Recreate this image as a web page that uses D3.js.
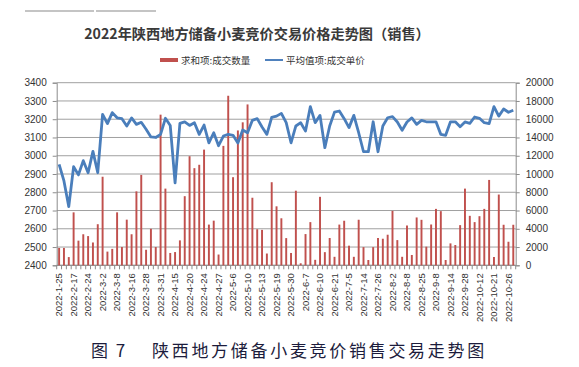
<!DOCTYPE html>
<html>
<meta charset="utf-8">
<style>
    body { margin: 0; background: #fff; }
    svg { display: block; background: #fff; }
    text { font-family: 'Liberation Sans', Arial, sans-serif; }
    .cjk { font-family: 'Noto Sans CJK SC', sans-serif; }
    .tick text { font-size: 10px; fill: #333; }
</style>
<body>
<svg width="579" height="367"></svg>

<script src="https://d3js.org/d3.v7.min.js"></script>
<script>
    // tick labels shown under the chart (one every 3rd trading day)
    let dateLabels = ["2022-1-25", "2022-2-17", "2022-2-24", "2022-3-2", "2022-3-8", "2022-3-16",
        "2022-3-28", "2022-3-31", "2022-4-15", "2022-4-20", "2022-4-24", "2022-4-27", "2022-5-6",
        "2022-5-10", "2022-5-13", "2022-5-19", "2022-5-30", "2022-6-7", "2022-6-10", "2022-6-21",
        "2022-7-5", "2022-7-14", "2022-7-26", "2022-8-2", "2022-8-8", "2022-8-25", "2022-9-8",
        "2022-9-14", "2022-9-28", "2022-10-12", "2022-10-21", "2022-10-26"];

    // 求和项:成交数量 (right axis)
    let quantity = [1900, 1900, 900, 5800, 2700, 3400, 3200, 2500, 4500, 9700, 1500, 1800,
        5800, 2000, 5000, 3400, 8100, 9900, 1700, 4000, 2000, 16500, 8400, 1350,
        1450, 2730, 7570, 11950, 10640, 11010, 12670, 4460, 4890, 1180, 13080, 18570,
        9650, 14770, 15660, 17620, 7400, 3950, 3880, 1290, 9100, 6460, 5150, 2980,
        1350, 8170, 220, 3420, 4730, 600, 7500, 1440, 2990, 930, 4460, 4880,
        2150, 930, 4990, 1990, 580, 1990, 2990, 2910, 3350, 5960, 2760, 930,
        4360, 1130, 5240, 4980, 2040, 4470, 6180, 5930, 580, 2400, 2220, 4400,
        8400, 5420, 4730, 5380, 6180, 9350, 910, 7750, 4440, 2580, 4440];

    // 平均值项:成交单价 (left axis)
    let price = [2953, 2862, 2721, 2940, 2895, 2973, 2907, 3024, 2907, 3227, 3176, 3236,
        3208, 3203, 3163, 3207, 3172, 3183, 3145, 3103, 3100, 3117, 3205, 3166,
        2852, 3177, 3185, 3166, 3181, 3117, 3168, 3071, 3126, 3055, 3108, 3117,
        3112, 3070, 3141, 3126, 3194, 3203, 3157, 3117, 3210, 3217, 3232, 3181,
        3071, 3163, 3181, 3135, 3269, 3181, 3221, 3044, 3163, 3239, 3245, 3203,
        3154, 3221, 3126, 3022, 3022, 3186, 3022, 3163, 3208, 3214, 3185, 3140,
        3185, 3207, 3172, 3194, 3186, 3185, 3186, 3117, 3112, 3186, 3186, 3159,
        3185, 3177, 3212, 3205, 3181, 3176, 3269, 3217, 3256, 3238, 3249];

    let leftTicks = [2400, 2500, 2600, 2700, 2800, 2900, 3000, 3100, 3200, 3300, 3400];
    let rightTicks = [0, 2000, 4000, 6000, 8000, 10000, 12000, 14000, 16000, 18000, 20000];

    let plot = {left: 56.7, right: 515.7, top: 82.7, bottom: 265.3};
    let svg = d3.select("svg");

    let idx = d3.range(quantity.length);
    let xScale = d3.scaleBand().domain(idx).range([plot.left, plot.right]);
    let yLeft = d3.scaleLinear().domain([2400, 3400]).range([plot.bottom, plot.top]);
    let yRight = d3.scaleLinear().domain([0, 20000]).range([plot.bottom, plot.top]);

    // faint rule at the top left
    svg.append("line").attr("x1", 25).attr("x2", 94).attr("y1", 11).attr("y2", 11)
        .style("stroke", "#c4c4c4").style("stroke-width", 2);
    svg.append("line").attr("x1", 96).attr("x2", 156).attr("y1", 11).attr("y2", 11)
        .style("stroke", "#c4c4c4").style("stroke-width", 2);

    // title
    svg.append("text").attr("class", "cjk")
        .attr("x", 257).attr("y", 39)
        .attr("text-anchor", "middle")
        .style("font-size", "14.2px").style("font-weight", "bold").style("fill", "#3a3a3a")
        .text("2022年陕西地方储备小麦竞价交易价格走势图（销售）");

    // legend
    svg.append("rect").attr("x", 160).attr("y", 58).attr("width", 18).attr("height", 4).style("fill", "#c0504d");
    svg.append("text").attr("class", "cjk").attr("x", 181).attr("y", 63.5)
        .style("font-size", "9.5px").style("fill", "#333").text("求和项:成交数量");
    svg.append("line").attr("x1", 265).attr("x2", 283).attr("y1", 60).attr("y2", 60)
        .style("stroke", "#4f81bd").style("stroke-width", 2);
    svg.append("text").attr("class", "cjk").attr("x", 286).attr("y", 63.5)
        .style("font-size", "9.5px").style("fill", "#333").text("平均值项:成交单价");

    // gridlines
    svg.append("g").selectAll("line")
        .data(leftTicks)
        .join("line")
        .attr("x1", plot.left).attr("x2", plot.right)
        .attr("y1", d => yLeft(d)).attr("y2", d => yLeft(d))
        .style("stroke", "#a0a0a0").style("stroke-width", 1);

    // axes
    let leftAxis = svg.append("g")
        .attr("transform", "translate(" + plot.left + ",0)")
        .call(d3.axisLeft(yLeft).tickValues(leftTicks).tickSize(4).tickPadding(6).tickFormat(d3.format("d")));
    let rightAxis = svg.append("g")
        .attr("transform", "translate(" + plot.right + ",0)")
        .call(d3.axisRight(yRight).tickValues(rightTicks).tickSize(4).tickPadding(6).tickFormat(d3.format("d")));
    [leftAxis, rightAxis].forEach(a => {
        a.selectAll("path, line").style("stroke", "#8c8c8c");
    });

    // bottom axis: tick at every category boundary, label every 3rd category
    let bottom = svg.append("g");
    bottom.append("line").attr("x1", plot.left).attr("x2", plot.right)
        .attr("y1", plot.bottom).attr("y2", plot.bottom).style("stroke", "#8c8c8c");
    bottom.selectAll(".cat-tick")
        .data(d3.range(quantity.length + 1))
        .join("line")
        .attr("class", "cat-tick")
        .attr("x1", d => plot.left + d * xScale.step())
        .attr("x2", d => plot.left + d * xScale.step())
        .attr("y1", plot.bottom).attr("y2", plot.bottom + 4)
        .style("stroke", "#8c8c8c");
    bottom.selectAll(".cat-label")
        .data(dateLabels)
        .join("text")
        .attr("class", "cat-label")
        .attr("transform", (d, i) => "translate(" + (xScale(i * 3) + xScale.bandwidth() / 2) + "," + (plot.bottom + 8) + ") rotate(-90)")
        .attr("dy", "0.35em")
        .attr("text-anchor", "end")
        .style("font-size", "9.5px").style("fill", "#333")
        .text(d => d);

    // bars
    let barW = xScale.bandwidth() * 0.4;
    svg.append("g").selectAll("rect")
        .data(quantity)
        .join("rect")
        .attr("x", (d, i) => xScale(i) + (xScale.bandwidth() - barW) / 2)
        .attr("width", barW)
        .attr("y", d => yRight(d))
        .attr("height", d => plot.bottom - yRight(d))
        .style("fill", "#c0504d");

    // price line
    let lineGenerator = d3.line()
        .x((d, i) => xScale(i) + xScale.bandwidth() / 2)
        .y(d => yLeft(d));
    svg.append("path")
        .datum(price)
        .attr("d", lineGenerator)
        .style("fill", "none")
        .style("stroke", "#4a7ebb")
        .style("stroke-width", 2.8)
        .style("stroke-linejoin", "round");

    // caption
    let caption = svg.append("text").attr("class", "cjk").attr("y", 357)
        .style("font-size", "17px").style("fill", "#1c1c3c");
    caption.append("tspan").attr("x", 91).style("letter-spacing", "2px").text("图 7");
    caption.append("tspan").attr("x", 152).style("letter-spacing", "2.7px").text("陕西地方储备小麦竞价销售交易走势图");
</script>
</body>
</html>
